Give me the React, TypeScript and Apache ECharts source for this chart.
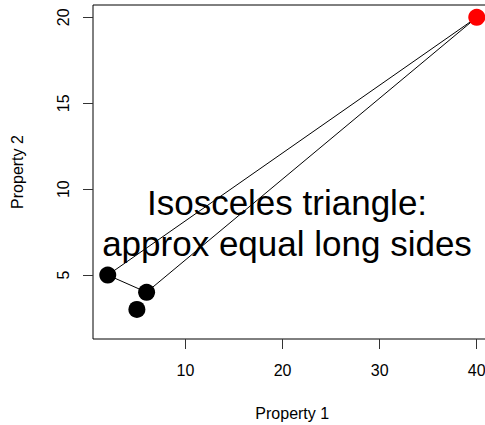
import React, { useEffect, useRef } from "react";
import * as echarts from "echarts";

const pointX = [2, 6, 5, 40];
const pointY = [5, 4, 3, 20];
const pointColors = ["#000000", "#000000", "#000000", "#ff0000"];
const triangleOrder = [0, 3, 1, 0];
const xTicks = [10, 20, 30, 40];
const yTicks = [5, 10, 15, 20];
const annotation = ["Isosceles triangle:", "approx equal long sides"];

export default function App() {
  const ref = useRef<HTMLDivElement>(null);
  useEffect(() => {
    if (!ref.current) return;
    const chart = echarts.init(ref.current, null, { renderer: "svg" });
    const font = "Liberation Sans, Arial, Helvetica, sans-serif";
    const points = pointX.map((x, i) => ({
      value: [x, pointY[i]],
      itemStyle: { color: pointColors[i], opacity: 1 },
    }));
    const tri = triangleOrder.map((i) => [pointX[i], pointY[i]]);
    chart.setOption({
      animation: false,
      backgroundColor: "#ffffff",
      textStyle: { fontFamily: font },
      grid: {
        left: 93,
        top: 5,
        width: 398.5,
        height: 334,
        containLabel: false,
        outerBoundsMode: "none",
        show: true,
        borderColor: "#000000",
        borderWidth: 1,
        backgroundColor: "transparent",
      },
      xAxis: {
        type: "value",
        min: 0.48,
        max: 41.52,
        name: "Property 1",
        nameLocation: "middle",
        nameGap: 66,
        nameTextStyle: { fontSize: 16, color: "#000", fontFamily: font },
        axisLine: { show: false },
        splitLine: { show: false },
        axisTick: {
          show: true,
          length: 10,
          customValues: xTicks,
          lineStyle: { color: "#333" },
        },
        axisLabel: {
          customValues: xTicks,
          fontSize: 16,
          color: "#000",
          margin: 23,
          fontFamily: font,
          hideOverlap: false,
        },
      },
      yAxis: {
        type: "value",
        min: 1.28,
        max: 20.72,
        name: "Property 2",
        nameLocation: "middle",
        nameGap: 68,
        nameTextStyle: { fontSize: 16, color: "#000", fontFamily: font },
        axisLine: { show: false },
        splitLine: { show: false },
        axisTick: {
          show: true,
          length: 10,
          customValues: yTicks,
          lineStyle: { color: "#333" },
        },
        axisLabel: {
          customValues: yTicks,
          fontSize: 16,
          color: "#000",
          margin: 22,
          rotate: 90,
          fontFamily: font,
        },
      },
      series: [
        {
          type: "line",
          data: tri,
          showSymbol: false,
          symbol: "none",
          lineStyle: { color: "#000", width: 1 },
          z: 2,
        },
        {
          type: "scatter",
          data: points,
          symbolSize: 17,
          z: 3,
        },
      ],
      graphic: [
        {
          type: "text",
          x: 287,
          y: 202,
          style: {
            text: annotation[0],
            fontSize: 35,
            fontFamily: font,
            fill: "#000",
            align: "center",
            verticalAlign: "middle",
          },
          z: 10,
        },
        {
          type: "text",
          x: 287,
          y: 243,
          style: {
            text: annotation[1],
            fontSize: 35,
            fontFamily: font,
            fill: "#000",
            align: "center",
            verticalAlign: "middle",
          },
          z: 10,
        },
      ],
    });
    return () => chart.dispose();
  }, []);
  return (
    <div
      ref={ref}
      style={{ position: "fixed", left: 0, top: 0, width: 485, height: 425 }}
    />
  );
}
